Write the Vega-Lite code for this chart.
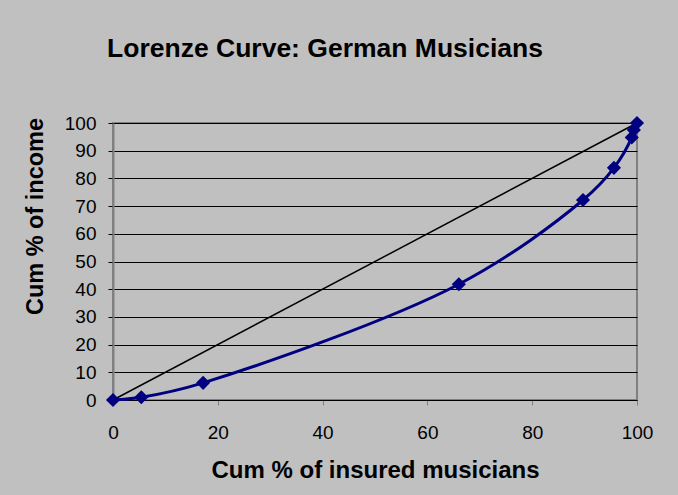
{
  "$schema": "https://vega.github.io/schema/vega-lite/v6.json",
  "width": 524,
  "height": 277,
  "autosize": {"type": "none"},
  "padding": {"left": 113, "top": 123, "right": 41, "bottom": 95},
  "background": "#C0C0C0",
  "config": {
    "font": "Liberation Sans",
    "view": {"stroke": "#808080", "strokeWidth": 2}
  },
  "title": {
    "text": "Lorenze Curve: German Musicians",
    "fontSize": 26.5,
    "fontWeight": "bold",
    "color": "black",
    "anchor": "middle",
    "baseline": "alphabetic",
    "dx": -50,
    "offset": 31
  },
  "datasets": {
    "equality": [{"x": 0, "y": 0}, {"x": 100, "y": 100}],
    "lorenz": [
      {"x": 0, "y": 0},
      {"x": 5.4, "y": 1},
      {"x": 17.2, "y": 6.2},
      {"x": 66, "y": 41.8},
      {"x": 89.7, "y": 72.2},
      {"x": 95.6, "y": 83.8},
      {"x": 99, "y": 94.8},
      {"x": 99.4, "y": 97.5},
      {"x": 100, "y": 100}
    ]
  },
  "encoding": {
    "x": {
      "field": "x",
      "type": "quantitative",
      "scale": {"domain": [0, 100], "nice": false},
      "axis": {
        "title": "Cum % of insured musicians",
        "values": [0, 20, 40, 60, 80, 100],
        "grid": false,
        "labelFlush": false,
        "domainColor": "black",
        "tickColor": "#808080",
        "tickSize": 5,
        "labelFontSize": 19,
        "labelColor": "black",
        "labelPadding": 18,
        "titleFontSize": 24,
        "titleFontWeight": "bold",
        "titleColor": "black",
        "titlePadding": 16
      }
    },
    "y": {
      "field": "y",
      "type": "quantitative",
      "scale": {"domain": [0, 100], "nice": false},
      "axis": {
        "title": "Cum % of income",
        "values": [0, 10, 20, 30, 40, 50, 60, 70, 80, 90, 100],
        "grid": true,
        "labelFlush": false,
        "gridColor": "black",
        "gridOpacity": 1,
        "domainColor": "#808080",
        "domainWidth": 2,
        "tickColor": "black",
        "tickSize": 5,
        "labelFontSize": 19,
        "labelColor": "black",
        "labelPadding": 12,
        "titleFontSize": 23.5,
        "titleFontWeight": "bold",
        "titleColor": "black",
        "titlePadding": 17,
        "titleY": 93
      }
    }
  },
  "layer": [
    {
      "data": {"name": "equality"},
      "mark": {"type": "line", "color": "black", "strokeWidth": 1.5}
    },
    {
      "data": {"name": "lorenz"},
      "mark": {"type": "line", "color": "#000080", "strokeWidth": 3, "interpolate": "catmull-rom"}
    },
    {
      "data": {"name": "lorenz"},
      "mark": {"type": "point", "shape": "diamond", "filled": true, "size": 200, "color": "#000080", "opacity": 1}
    }
  ]
}
